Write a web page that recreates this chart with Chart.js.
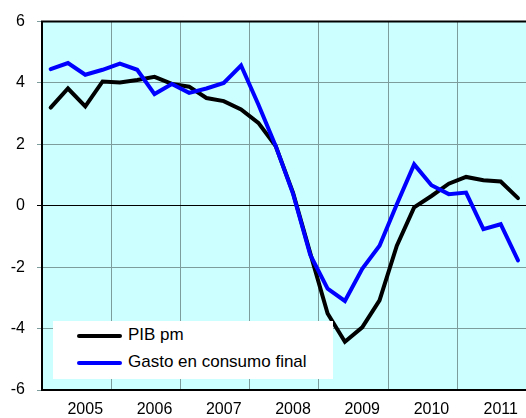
<!DOCTYPE html>
<html>
<head>
<meta charset="utf-8">
<script src="https://cdn.jsdelivr.net/npm/chart.js@4.4.1/dist/chart.umd.min.js"></script>
<style>
  html, body { margin:0; padding:0; background:#fff; overflow:hidden; }
  #wrap { position:relative; width:526px; height:418px; overflow:hidden; }
  #c { position:absolute; left:0; top:0; }
  #legend { position:absolute; left:53px; top:321px; width:280px; height:58px; background:#fff;
            font-family:"Liberation Sans", Arial, sans-serif; font-size:17px; color:#000; }
  #legend .sw { position:absolute; left:24px; width:45px; height:4px; border-radius:2px; }
  #legend .tx { position:absolute; left:75px; line-height:20px; white-space:nowrap; }
</style>
</head>
<body>
<div id="wrap">
  <canvas id="c" width="528" height="418"></canvas>
  <div id="legend"></div>
</div>
<script>
// Categories: quarters 2005 T1 .. 2011 T4
const quarters = [
  "2005T1","2005T2","2005T3","2005T4",
  "2006T1","2006T2","2006T3","2006T4",
  "2007T1","2007T2","2007T3","2007T4",
  "2008T1","2008T2","2008T3","2008T4",
  "2009T1","2009T2","2009T3","2009T4",
  "2010T1","2010T2","2010T3","2010T4",
  "2011T1","2011T2","2011T3","2011T4"
];
const yearLabels = ["2005","2006","2007","2008","2009","2010","2011"];
const yTicks = [-6, -4, -2, 0, 2, 4, 6];

const seriesNames = ["PIB pm", "Gasto en consumo final"];

const pibPm = [
  3.20, 3.82, 3.24, 4.05,
  4.02, 4.10, 4.20, 3.97,
  3.88, 3.51, 3.41, 3.14,
  2.70, 1.95, 0.43, -1.55,
  -3.51, -4.43, -3.96, -3.08,
  -1.30, -0.05, 0.32, 0.72,
  0.94, 0.83, 0.79, 0.25
];
const gastoConsumo = [
  4.45, 4.65, 4.27, 4.43,
  4.63, 4.43, 3.64, 3.97,
  3.68, 3.82, 4.00, 4.57,
  3.30, 1.95, 0.40, -1.60,
  -2.70, -3.10, -2.05, -1.30,
  0.05, 1.35, 0.67, 0.38,
  0.43, -0.76, -0.60, -1.78
];

const FONT = "'Liberation Sans', Arial, sans-serif";
const gridGray = '#7d9c9c';

const plotBg = {
  id: 'plotBg',
  beforeDraw(chart) {
    const { ctx, chartArea: a } = chart;
    ctx.save();
    ctx.fillStyle = '#CCFFFF';
    ctx.fillRect(a.left, a.top, a.right - a.left, a.bottom - a.top);
    ctx.restore();
  },
  afterDatasetsDraw(chart) {
    const { ctx, chartArea: a } = chart;
    ctx.save();
    ctx.strokeStyle = '#000';
    ctx.lineWidth = 2;
    ctx.beginPath();
    ctx.moveTo(a.left - 1, a.top);
    ctx.lineTo(a.right, a.top);
    ctx.stroke();
    ctx.restore();
  }
};

const chart = new Chart(document.getElementById('c'), {
  type: 'line',
  data: {
    labels: quarters,
    datasets: [
      { label: seriesNames[0], data: pibPm, borderColor: '#000000', backgroundColor: '#000000',
        borderWidth: 4, pointRadius: 0, tension: 0, fill: false, order: 2, borderCapStyle: 'round' },
      { label: seriesNames[1], data: gastoConsumo, borderColor: '#0000FF', backgroundColor: '#0000FF',
        borderWidth: 4, pointRadius: 0, tension: 0, fill: false, order: 1, borderCapStyle: 'round' }
    ]
  },
  options: {
    responsive: false,
    devicePixelRatio: 1,
    animation: false,
    layout: { padding: { top: 20, right: 0, left: 0, bottom: 0 } },
    plugins: { legend: { display: false }, tooltip: { enabled: false } },
    scales: {
      x: {
        type: 'category',
        offset: true,
        grid: {
          offset: true,
          drawTicks: false,
          lineWidth: 1,
          color: (ctx) => (ctx.index !== undefined && ctx.index % 4 === 0) ? gridGray : 'rgba(0,0,0,0)'
        },
        border: { display: true, color: '#000', width: 2 },
        ticks: {
          autoSkip: false, maxRotation: 0, minRotation: 0, padding: 10, color: '#000',
          font: { family: FONT, size: 16 },
          callback: (v, i) => (i % 4 === 2) ? yearLabels[Math.floor(i / 4)] : ''
        },
        afterFit: (s) => { s.height = 28; }
      },
      y: {
        min: yTicks[0], max: yTicks[yTicks.length - 1],
        afterBuildTicks: (s) => { s.ticks = yTicks.map(v => ({ value: v })); },
        grid: {
          lineWidth: 1,
          tickLength: 5,
          color: (ctx) => (ctx.tick && ctx.tick.value === 0) ? '#000' : gridGray,
          tickColor: (ctx) => (ctx.tick && ctx.tick.value === 0) ? '#000' : gridGray
        },
        border: { display: true, color: '#000', width: 2 },
        ticks: { padding: 12, color: '#000', font: { family: FONT, size: 16 } },
        afterFit: (s) => { s.width = 42; }
      }
    }
  },
  plugins: [plotBg]
});

// Legend built from the chart's datasets
const leg = document.getElementById('legend');
const rowCenters = [15, 42];
chart.data.datasets.forEach((ds, i) => {
  const sw = document.createElement('div');
  sw.className = 'sw';
  sw.style.background = ds.borderColor;
  sw.style.top = (rowCenters[i] - 2) + 'px';
  leg.appendChild(sw);
  const tx = document.createElement('div');
  tx.className = 'tx';
  tx.textContent = ds.label;
  tx.style.top = (rowCenters[i] - 11) + 'px';
  leg.appendChild(tx);
});
</script>
</body>
</html>
